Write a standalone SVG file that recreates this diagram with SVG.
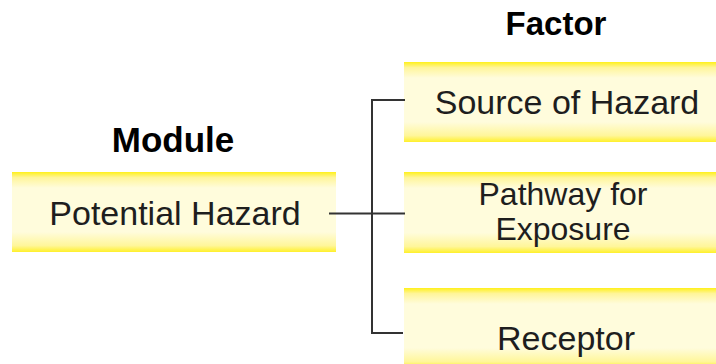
<svg xmlns="http://www.w3.org/2000/svg" width="716" height="364" viewBox="0 0 716 364">
<defs>
<linearGradient id="yg" x1="0" y1="0" x2="0" y2="1">
<stop offset="0" stop-color="#fff01a"/>
<stop offset="0.07" stop-color="#fff59a"/>
<stop offset="0.2" stop-color="#fffcdc"/>
<stop offset="0.75" stop-color="#fffcdc"/>
<stop offset="0.92" stop-color="#fff69a"/>
<stop offset="1" stop-color="#fff02a"/>
</linearGradient>
<style>
.box{fill:url(#yg);}
.t{font-family:"Liberation Sans",Arial,sans-serif;font-size:34px;fill:#1e1e1e;text-anchor:middle;}
.t2{font-size:32px;}
.h{font-family:"Liberation Sans",Arial,sans-serif;font-weight:bold;fill:#000;text-anchor:middle;}
.c{fill:none;stroke:#333;stroke-width:2;}
</style>
</defs>
<rect width="716" height="364" fill="#fff"/>
<g id="header-factor"><text class="h" x="556" y="35" font-size="33">Factor</text></g>
<g id="header-module"><text class="h" x="173" y="152" font-size="35">Module</text></g>
<g id="potential-hazard">
<rect class="box" x="12" y="172" width="324" height="80"/>
<text class="t" x="175" y="225">Potential Hazard</text>
</g>
<g id="source-of-hazard">
<rect class="box" x="404" y="62" width="330" height="80"/>
<text class="t" x="567" y="114">Source of Hazard</text>
</g>
<g id="pathway-for-exposure">
<rect class="box" x="404" y="172" width="330" height="81"/>
<text class="t t2" x="563" y="205">Pathway for</text>
<text class="t t2" x="563" y="240">Exposure</text>
</g>
<g id="receptor">
<rect class="box" x="404" y="288" width="330" height="80"/>
<text class="t" x="566" y="350">Receptor</text>
</g>
<g id="connectors">
<path class="c" d="M405 100 H372 V333 H403"/>
<path class="c" d="M329 213.5 H405"/>
</g>
</svg>
